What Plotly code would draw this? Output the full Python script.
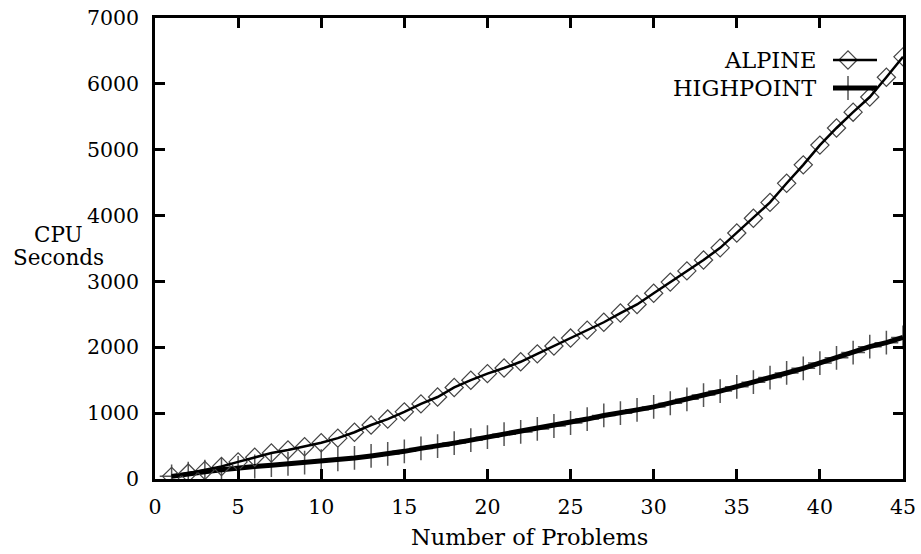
import plotly.graph_objects as go

problems = list(range(1, 46))
alpine = [40, 90, 130, 190, 260, 330, 395, 440, 490, 550,
          620, 710, 820, 910, 1020, 1140, 1245, 1390, 1500, 1600,
          1685, 1780, 1900, 2020, 2140, 2260, 2380, 2520, 2650, 2820,
          2990, 3160, 3325, 3510, 3735, 3960, 4200, 4490, 4770, 5070,
          5330, 5570, 5800, 6100, 6410]
highpoint = [40, 80, 110, 140, 170, 190, 210, 230, 250, 270,
             300, 320, 350, 380, 420, 465, 500, 545, 590, 635,
             680, 715, 760, 805, 850, 910, 965, 1000, 1050, 1095,
             1150, 1210, 1275, 1335, 1400, 1470, 1540, 1610, 1680, 1760,
             1840, 1920, 2010, 2070, 2150]
x_ticks = [0, 5, 10, 15, 20, 25, 30, 35, 40, 45]
y_ticks = [0, 1000, 2000, 3000, 4000, 5000, 6000, 7000]
series_names = ["ALPINE", "HIGHPOINT"]

FONT = "DejaVu Serif"
fs_tick = 20.5
fs_text = 22.5
fs_ytitle = 21.5
GREY = "#555555"

diamond = dict(symbol="diamond-open", size=14, color="#444444",
               line=dict(color="#444444", width=1.2))
plus = dict(symbol="cross-thin-open", size=17, color=GREY,
            line=dict(color=GREY, width=1.5))

fig = go.Figure()
# markers first, lines drawn on top (as in the original plotting program)
fig.add_trace(go.Scatter(x=problems, y=highpoint, mode="markers", marker=plus,
                         showlegend=False))
fig.add_trace(go.Scatter(x=problems, y=highpoint, mode="lines",
                         line=dict(color="black", width=5), showlegend=False))
fig.add_trace(go.Scatter(x=problems, y=alpine, mode="markers", marker=diamond,
                         showlegend=False))
fig.add_trace(go.Scatter(x=problems, y=alpine, mode="lines",
                         line=dict(color="black", width=2.5), showlegend=False))

# custom legend (symbol to the right of text) on an overlay axis in plot-fraction coordinates
leg_y = [(479 - 60) / 461, (479 - 88) / 461]
lx0, lx1, lm = (833 - 155) / 748, (877 - 155) / 748, (848 - 155) / 748
fig.add_trace(go.Scatter(x=[lm], y=[leg_y[0]], mode="markers", marker=diamond,
                         xaxis="x2", yaxis="y2", showlegend=False, hoverinfo="skip"))
fig.add_trace(go.Scatter(x=[lx0, lx1], y=[leg_y[0]] * 2, mode="lines",
                         line=dict(color="black", width=2.5), xaxis="x2", yaxis="y2",
                         showlegend=False, hoverinfo="skip"))
fig.add_trace(go.Scatter(x=[lm], y=[leg_y[1]], mode="markers", marker=plus,
                         xaxis="x2", yaxis="y2", showlegend=False, hoverinfo="skip"))
fig.add_trace(go.Scatter(x=[lx0, lx1], y=[leg_y[1]] * 2, mode="lines",
                         line=dict(color="black", width=5), xaxis="x2", yaxis="y2",
                         showlegend=False, hoverinfo="skip"))

annotations = []
for name, yy in zip(series_names, leg_y):
    annotations.append(dict(xref="x2", yref="y2", x=(818 - 155) / 748, y=yy,
                            text=name, showarrow=False, xanchor="right", yanchor="middle",
                            font=dict(family=FONT, size=fs_text, color="black")))
for txt, py in [("CPU", 234), ("Seconds", 257)]:
    annotations.append(dict(xref="paper", yref="paper", x=(58 - 155) / 748, y=(479 - py) / 461,
                            text=txt, showarrow=False, xanchor="center", yanchor="middle",
                            font=dict(family=FONT, size=fs_ytitle, color="black")))
annotations.append(dict(xref="paper", yref="paper", x=0.5, y=(479 - 537) / 461,
                        text="Number of Problems", showarrow=False, xanchor="center", yanchor="middle",
                        font=dict(family=FONT, size=fs_text, color="black")))

axis_common = dict(showgrid=False, zeroline=False, showline=True, linecolor="black",
                   linewidth=2.5, mirror="allticks", ticks="inside", ticklen=10,
                   tickwidth=2.5, tickcolor="black", automargin=False,
                   tickfont=dict(family=FONT, size=fs_tick, color="black"))

fig.update_layout(
    width=921, height=554,
    margin=dict(l=155, r=18, t=18, b=75),
    paper_bgcolor="white", plot_bgcolor="white",
    xaxis=dict(range=[0, 45], tickvals=x_ticks, ticklabelstandoff=8, **axis_common),
    yaxis=dict(range=[0, 7000], tickvals=y_ticks, ticklabelstandoff=9, **axis_common),
    xaxis2=dict(overlaying="x", range=[0, 1], visible=False),
    yaxis2=dict(overlaying="y", range=[0, 1], visible=False),
    annotations=annotations,
    showlegend=False,
)

fig.write_html("out.html", config={"displayModeBar": False},
               post_script="document.body.style.margin='0';")
